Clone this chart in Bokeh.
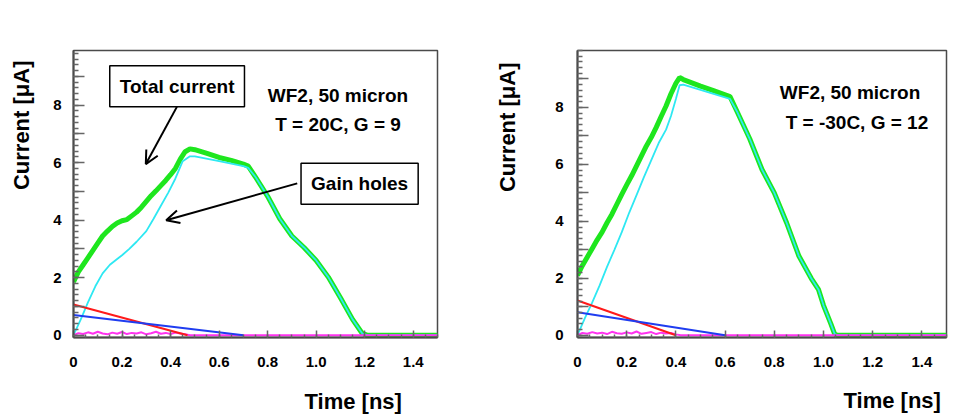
import math
from bokeh.plotting import figure
from bokeh.layouts import row
from bokeh.models import Label, Arrow, OpenHead, FixedTicker, Range1d, Title
from bokeh.embed import file_html
from bokeh.resources import INLINE

FONT = "Liberation Sans"

# ---------------- data: T = 20C, G = 9 ----------------
t_total_20 = [0.00, 0.02, 0.04, 0.06, 0.08, 0.10, 0.12, 0.14, 0.16, 0.18, 0.20, 0.22, 0.24,
              0.26, 0.28, 0.30, 0.32, 0.34, 0.36, 0.38, 0.40, 0.42, 0.44, 0.46, 0.48, 0.50,
              0.55, 0.60, 0.65, 0.70, 0.72, 0.75, 0.80, 0.85, 0.90, 0.95, 1.00, 1.05, 1.10,
              1.15, 1.19, 1.21, 1.50]
i_total_20 = [1.85, 2.20, 2.45, 2.70, 2.95, 3.20, 3.45, 3.62, 3.78, 3.90, 3.98, 4.02, 4.15,
              4.28, 4.45, 4.65, 4.85, 5.02, 5.20, 5.38, 5.58, 5.80, 6.12, 6.38, 6.48, 6.45,
              6.32, 6.18, 6.08, 5.95, 5.88, 5.50, 4.83, 4.05, 3.45, 3.05, 2.60, 2.02, 1.30,
              0.55, 0.06, 0.00, 0.00]
t_holes_20 = [0.00, 0.03, 0.06, 0.09, 0.12, 0.15, 0.18, 0.20, 0.23, 0.26, 0.30, 0.33, 0.36,
              0.39, 0.42, 0.45, 0.48, 0.50, 0.60, 0.70, 0.72, 0.75, 0.80, 0.85, 0.90, 0.95,
              1.00, 1.05, 1.10, 1.15, 1.19, 1.21, 1.50]
i_holes_20 = [0.00, 0.55, 1.15, 1.70, 2.15, 2.45, 2.65, 2.78, 3.00, 3.25, 3.62, 4.05, 4.50,
              4.95, 5.45, 6.05, 6.22, 6.22, 6.05, 5.88, 5.82, 5.50, 4.83, 4.05, 3.45, 3.05,
              2.60, 2.02, 1.30, 0.55, 0.06, 0.00, 0.00]
t_red_20 = [0.00, 0.47]
i_red_20 = [1.07, 0.00]
t_blue_20 = [0.00, 0.70]
i_blue_20 = [0.70, 0.00]
t_mag_20 = [0.00, 0.02, 0.04, 0.06, 0.08, 0.10, 0.12, 0.14, 0.16, 0.18, 0.20, 0.22, 0.24,
            0.26, 0.28, 0.30, 0.32, 0.34, 0.36, 0.38, 0.40, 0.42, 0.44, 0.46, 0.48, 1.50]
i_mag_20 = [0.00, 0.07, 0.04, 0.10, 0.05, 0.12, 0.06, 0.03, 0.09, 0.05, 0.11, 0.04, 0.08,
            0.06, 0.10, 0.03, 0.07, 0.12, 0.05, 0.08, 0.04, 0.09, 0.06, 0.03, 0.00, 0.00]

# ---------------- data: T = -30C, G = 12 ----------------
t_total_m30 = [0.00, 0.02, 0.04, 0.06, 0.08, 0.10, 0.12, 0.14, 0.16, 0.18, 0.20, 0.22, 0.24,
               0.26, 0.28, 0.30, 0.32, 0.34, 0.36, 0.38, 0.40, 0.415, 0.43, 0.50, 0.55, 0.62,
               0.65, 0.70, 0.75, 0.80, 0.85, 0.90, 0.95, 0.98, 1.00, 1.03, 1.045, 1.055, 1.50]
i_total_m30 = [2.10, 2.45, 2.75, 3.05, 3.35, 3.62, 3.95, 4.25, 4.60, 4.95, 5.28, 5.60, 5.95,
               6.30, 6.65, 6.95, 7.30, 7.68, 8.05, 8.48, 8.85, 9.05, 8.98, 8.75, 8.60, 8.38,
               7.83, 6.90, 5.82, 5.00, 3.95, 2.78, 2.00, 1.60, 1.05, 0.40, 0.05, 0.00, 0.00]
t_holes_m30 = [0.00, 0.03, 0.06, 0.09, 0.12, 0.15, 0.18, 0.21, 0.24, 0.27, 0.30, 0.33, 0.36,
               0.38, 0.40, 0.415, 0.43, 0.62, 0.65, 0.70, 0.75, 0.80, 0.85, 0.90, 0.95, 0.98,
               1.00, 1.03, 1.045, 1.055, 1.50]
i_holes_m30 = [0.00, 0.60, 1.15, 1.75, 2.40, 3.00, 3.62, 4.30, 4.92, 5.55, 6.15, 6.75, 7.22,
               7.70, 8.30, 8.78, 8.80, 8.30, 7.83, 6.90, 5.82, 5.00, 3.95, 2.78, 2.00, 1.60,
               1.05, 0.40, 0.05, 0.00, 0.00]
t_red_m30 = [0.00, 0.40]
i_red_m30 = [1.22, 0.00]
t_blue_m30 = [0.00, 0.60]
i_blue_m30 = [0.81, 0.00]
t_mag_m30 = [0.00, 0.02, 0.04, 0.06, 0.08, 0.10, 0.12, 0.14, 0.16, 0.18, 0.20, 0.22, 0.24,
             0.26, 0.28, 0.30, 0.32, 0.34, 0.36, 0.38, 0.40, 0.42, 1.50]
i_mag_m30 = [0.00, 0.08, 0.05, 0.11, 0.06, 0.09, 0.04, 0.12, 0.07, 0.05, 0.10, 0.06, 0.13,
             0.05, 0.08, 0.11, 0.04, 0.09, 0.06, 0.08, 0.03, 0.00, 0.00]

# ---------------- ticks ----------------
x_ticks = [0, 0.2, 0.4, 0.6, 0.8, 1.0, 1.2, 1.4]
x_tick_labels = ["0", "0.2", "0.4", "0.6", "0.8", "1.0", "1.2", "1.4"]
y_ticks = [0, 1, 2, 3, 4, 5, 6, 7, 8, 9]
y_tick_labels = ["0", "", "2", "", "4", "", "6", "", "8", ""]

GREEN = "#1ee61e"
CYAN = "#2ee8f2"
RED = "#ff1a1a"
BLUE = "#1f3df0"
MAGENTA = "#ff33f0"
AXIS = "#4a4a4a"
TICK = "#666666"


def make_fig(width, y_top, mb_left, mb_right, mb_top, mb_bottom, pad_x, pad_y):
    p = figure(width=width, height=415, x_range=Range1d(0, 1.5), y_range=Range1d(-0.08, y_top),
               output_backend="svg", toolbar_location=None,
               min_border_left=mb_left, min_border_right=mb_right,
               min_border_top=mb_top, min_border_bottom=mb_bottom)
    p.xgrid.visible = False
    p.ygrid.visible = False
    p.background_fill_color = "white"
    p.border_fill_color = "white"
    p.outline_line_color = AXIS
    p.outline_line_width = 1.5

    xa = p.xaxis[0]
    xa.ticker = FixedTicker(ticks=x_ticks, minor_ticks=[k * 0.05 for k in range(31)])
    xa.major_label_overrides = dict(zip(x_ticks, x_tick_labels))
    xa.major_tick_in = 7
    xa.major_tick_out = 0
    xa.minor_tick_in = 3
    xa.minor_tick_out = 0
    xa.major_label_standoff = 19

    ya = p.yaxis[0]
    ya.ticker = FixedTicker(ticks=y_ticks, minor_ticks=[k * 0.2 for k in range(51)])
    ya.major_label_overrides = dict(zip(y_ticks, y_tick_labels))
    ya.major_tick_in = 11
    ya.major_tick_out = 0
    ya.minor_tick_in = 5
    ya.minor_tick_out = 0

    for ax, pad in ((xa, pad_x), (ya, pad_y)):
        ax.axis_line_color = AXIS
        ax.axis_line_width = 2
        ax.major_tick_line_color = TICK
        ax.minor_tick_line_color = TICK
        ax.major_tick_line_width = 1.5
        ax.minor_tick_line_width = 1.5
        ax.major_label_text_font = FONT
        ax.major_label_text_font_style = "bold"
        ax.major_label_text_font_size = "15px"
        ax.major_label_text_color = "black"
        if pad is not None:
            ax.axis_label = " "
            ax.axis_label_text_font_size = "2px"
            ax.axis_label_standoff = pad
    return p


def draw_curves(p, tt, it, th, ih, tr, ir, tb, ib, tm, im):
    p.line(tt, it, line_color=GREEN, line_width=5)
    p.line(th, ih, line_color=CYAN, line_width=1.8)
    p.line(tm, im, line_color=MAGENTA, line_width=2)
    p.line(tr, ir, line_color=RED, line_width=2)
    p.line(tb, ib, line_color=BLUE, line_width=2)


def text(p, x, y, s, size="19px", align="center", baseline="alphabetic", **kw):
    p.add_layout(Label(x=x, y=y, text=s, text_font=FONT, text_font_style="bold",
                       text_font_size=size, text_align=align, text_baseline=baseline,
                       text_color="black", **kw))


def axis_titles(p, y_offset, y_standoff, x_offset, x_standoff):
    p.add_layout(Title(text="Current [μA]", align="right", vertical_align="bottom",
                       offset=y_offset, standoff=y_standoff, text_font=FONT,
                       text_font_style="bold", text_font_size="22px", text_color="black"), "left")
    p.add_layout(Title(text="Time [ns]", align="left", vertical_align="bottom",
                       offset=x_offset, standoff=x_standoff, text_font=FONT,
                       text_font_style="bold", text_font_size="22px", text_color="black"), "below")


# ---------------- left panel ----------------
p1 = make_fig(457, 9.9, 73, 20, 50, 78, pad_x=10, pad_y=6)
p1.yaxis[0].major_label_standoff = 12
draw_curves(p1, t_total_20, i_total_20, t_holes_20, i_holes_20, t_red_20, i_red_20,
            t_blue_20, i_blue_20, t_mag_20, i_mag_20)
text(p1, 1.09, 8.35, "WF2, 50 micron")
text(p1, 1.09, 7.34, "T = 20C, G = 9")
p1.add_layout(Arrow(end=OpenHead(size=13, line_width=2, line_color="black"),
                    x_start=0.426, y_start=7.94, x_end=0.298, y_end=5.95,
                    line_width=2, line_color="black"))
p1.add_layout(Arrow(end=OpenHead(size=13, line_width=2, line_color="black"),
                    x_start=0.922, y_start=5.28, x_end=0.382, y_end=4.0,
                    line_width=2, line_color="black"))
text(p1, 0.427, 8.66, "Total current", baseline="middle", padding=10,
     background_fill_color="white", border_line_color="black", border_line_width=1.5)
text(p1, 1.179, 5.27, "Gain holes", baseline="middle", padding=10,
     background_fill_color="white", border_line_color="black", border_line_width=1.5)
axis_titles(p1, 10, 10, 231, 4)

# ---------------- right panel ----------------
p2 = make_fig(523, 10.0, 120, 34, 49, 76, pad_x=11, pad_y=None)
p2.yaxis[0].major_label_standoff = 14
draw_curves(p2, t_total_m30, i_total_m30, t_holes_m30, i_holes_m30, t_red_m30, i_red_m30,
            t_blue_m30, i_blue_m30, t_mag_m30, i_mag_m30)
text(p2, 1.108, 8.52, "WF2, 50 micron")
text(p2, 1.136, 7.48, "T = -30C, G = 12")
axis_titles(p2, 12, 65, 266, 0)

layout = row(p1, p2)
open("out.html", "w").write(file_html(layout, INLINE))
